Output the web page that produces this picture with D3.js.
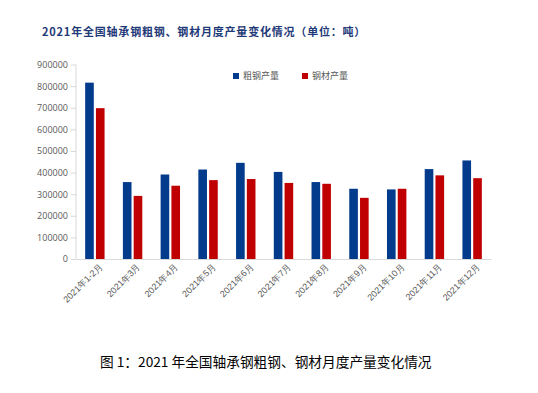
<!DOCTYPE html>
<html>
<head>
<meta charset="utf-8">
<script src="https://cdn.jsdelivr.net/npm/d3@7"></script>
<style>
  body { margin: 0; background: #fff; }
  svg { display: block; font-family: "Noto Sans CJK SC", "Noto Sans", sans-serif; }
</style>
</head>
<body>
<svg id="chart" width="538" height="393"></svg>
<script>
// months on the x axis
const months = ["2021年1-2月", "2021年3月", "2021年4月", "2021年5月", "2021年6月", "2021年7月",
    "2021年8月", "2021年9月", "2021年10月", "2021年11月", "2021年12月"];
const seriesNames = ["粗钢产量", "钢材产量"];
const crudeSteel = [816000, 356000, 391000, 414000, 445000, 403000, 356000, 325000, 322000, 416000, 456000];
const rolledSteel = [698000, 292000, 339000, 365000, 370000, 352000, 348000, 283000, 325000, 387000, 374000];
const yTicks = [0, 100000, 200000, 300000, 400000, 500000, 600000, 700000, 800000, 900000];

const colors = ["#023a8c", "#c00000"];

const svg = d3.select("#chart");
const margin = { left: 76, right: 47, top: 64.5, bottom: 134 };
const width = 538 - margin.left - margin.right;
const height = 393 - margin.top - margin.bottom;

// title
svg.append("text")
    .attr("x", 42)
    .attr("y", 36)
    .attr("font-size", 11)
    .attr("font-weight", "bold")
    .attr("letter-spacing", 0.8)
    .attr("fill", "#1f3a78")
    .text("2021年全国轴承钢粗钢、钢材月度产量变化情况（单位：吨）");

const g = svg.append("g").attr("transform", `translate(${margin.left},${margin.top})`);

let x = d3.scaleBand().domain(months).range([0, width]);
let x1 = d3.scaleBand().domain([0, 1]).range([0, x.bandwidth()]).paddingInner(0.2).paddingOuter(0.85);
let y = d3.scaleLinear().domain([0, 900000]).range([height, 0]);

// y axis
let yAxis = g.append("g")
    .call(d3.axisLeft(y).tickValues(yTicks).tickSize(5).tickPadding(3).tickFormat(d3.format("d")));
yAxis.select(".domain").attr("stroke", "#d9d9d9").attr("d", `M0,${height}V0`);
yAxis.selectAll(".tick line").attr("stroke", "#d9d9d9");
yAxis.selectAll(".tick text").attr("fill", "#595959").attr("font-size", 9)
    .attr("font-family", "'Open Sans', 'Noto Sans', sans-serif");

// bars
let groups = g.selectAll("g.month")
    .data(months)
    .enter().append("g")
    .attr("class", "month")
    .attr("transform", d => `translate(${x(d)},0)`);

groups.selectAll("rect")
    .data((d, i) => [crudeSteel[i], rolledSteel[i]])
    .enter().append("rect")
    .attr("x", (d, j) => x1(j))
    .attr("width", x1.bandwidth())
    .attr("y", d => y(d))
    .attr("height", d => height - y(d))
    .attr("fill", (d, j) => colors[j]);

// x axis
let xAxis = g.append("g")
    .attr("transform", `translate(0,${height})`)
    .call(d3.axisBottom(x).tickSize(0).tickPadding(6));
xAxis.select(".domain").attr("stroke", "#d9d9d9");
xAxis.selectAll(".tick text")
    .attr("fill", "#595959")
    .attr("font-size", 9)
    .attr("text-anchor", "end")
    .attr("dy", 0)
    .attr("transform", "translate(4,4) rotate(-45)");

// legend
let legend = svg.append("g").attr("transform", "translate(233,73)");
seriesNames.forEach((name, i) => {
    let item = legend.append("g").attr("transform", `translate(${i * 69},0)`);
    item.append("rect").attr("width", 6).attr("height", 6).attr("fill", colors[i]);
    item.append("text")
        .attr("x", 10)
        .attr("y", 6)
        .attr("font-size", 9)
        .attr("fill", "#595959")
        .text(name);
});

// caption below chart
svg.append("text")
    .attr("x", 100)
    .attr("y", 367)
    .attr("font-size", 13.7)
    .attr("fill", "#000")
    .text("图 1：2021 年全国轴承钢粗钢、钢材月度产量变化情况");
</script>
</body>
</html>
